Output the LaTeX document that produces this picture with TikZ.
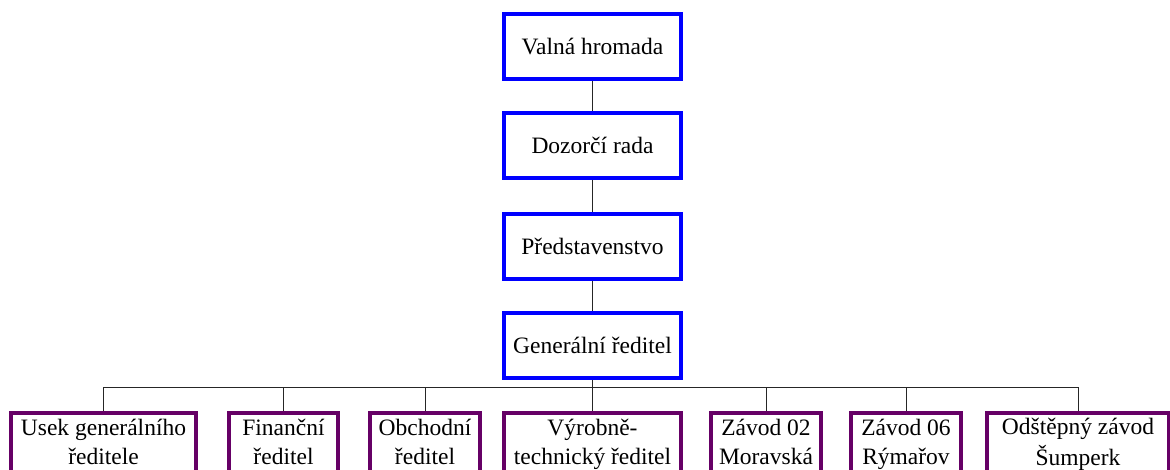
\documentclass[tikz,border=0pt]{standalone}
\usepackage{fontspec}
\setmainfont{Liberation Serif}
\definecolor{boxblue}{RGB}{0,0,255}
\definecolor{boxpurple}{RGB}{102,0,102}
\newcommand{\twolines}[2]{\raisebox{3pt}[\height][\depth]{\begin{tabular}{@{}c@{}}#1\\[2pt] #2\end{tabular}}}
\tikzset{
  topbox/.style={draw=boxblue, line width=4pt, minimum width=177pt, minimum height=65pt, inner sep=0pt, align=center, font=\fontsize{23.5}{27}\selectfont},
  botbox/.style={draw=boxpurple, line width=4pt, minimum height=69pt, inner sep=0pt, anchor=north, font=\fontsize{23.5}{27}\selectfont},
  conn/.style={line width=1pt, draw=black!85}
}
\begin{document}
\begin{tikzpicture}[x=1pt,y=-1pt]
\useasboundingbox (0,0) rectangle (1170,469);
\clip (0,0) rectangle (1170,469);
\node[topbox] (vh) at (592.5,46.5) {Valná hromada};
\node[topbox] (dr) at (592.5,145) {Dozorčí rada};
\node[topbox] (pr) at (592.5,246) {Představenstvo};
\node[topbox] (gr) at (592.5,345.5) {Generální ředitel};
\coordinate (bar) at (592.5,387);
\node[botbox, minimum width=185pt] (b1) at (103.5,411) {\twolines{Usek generálního}{ředitele}};
\node[botbox, minimum width=109pt] (b2) at (283.5,411) {\twolines{Finanční}{ředitel}};
\node[botbox, minimum width=110pt] (b3) at (425,411) {\twolines{Obchodní}{ředitel}};
\node[botbox, minimum width=177pt] (b4) at (592.5,411) {\twolines{Výrobně-}{technický ředitel}};
\node[botbox, minimum width=110pt] (b5) at (766,411) {\twolines{Závod 02}{Moravská}};
\node[botbox, minimum width=110pt] (b6) at (906,411) {\twolines{Závod 06}{Rýmařov}};
\node[botbox, minimum width=182pt] (b7) at (1078,411) {\twolines{Odštěpný závod}{Šumperk}};
\draw[conn] (vh) -- (dr);
\draw[conn] (dr) -- (pr);
\draw[conn] (pr) -- (gr);
\draw[conn] (gr) -- (bar);
\draw[conn] (bar -| b1.north) -- (bar -| b7.north);
\foreach \b in {b1,b2,b3,b4,b5,b6,b7} {
  \draw[conn] (bar -| \b.north) -- (\b.north);
}
\end{tikzpicture}
\end{document}
